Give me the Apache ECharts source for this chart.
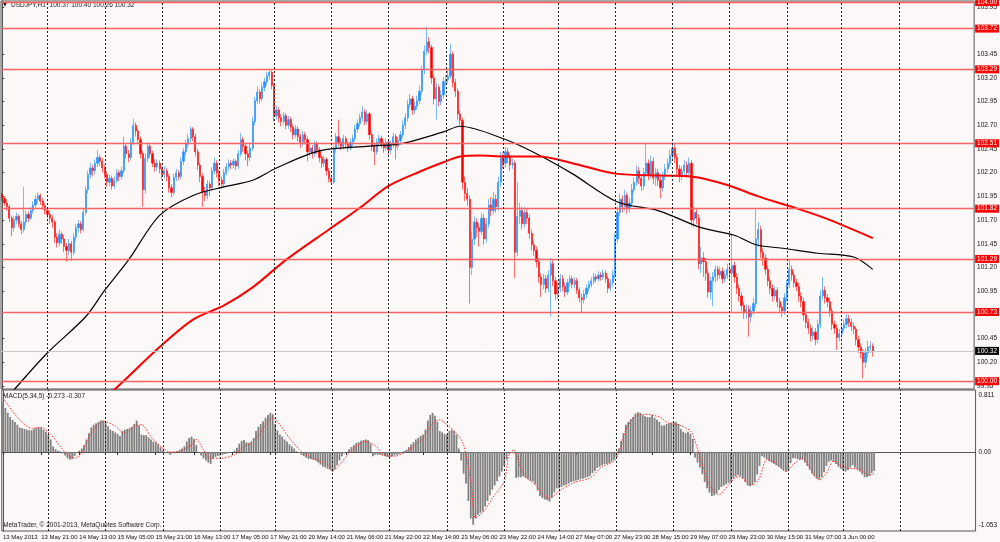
<!DOCTYPE html>
<html lang="en">
<head>
<meta charset="UTF-8">
<title>USDJPY,H1</title>
<style>
  html, body { margin: 0; padding: 0; background: #fcf8f7; }
  #main { width: 1000px; height: 542px; }
</style>
</head>
<body>
<div id="main"></div>
<script src="https://cdn.jsdelivr.net/npm/echarts@6/dist/echarts.min.js"></script>
<script>
// USDJPY H1, 13 May 05:00 .. 3 Jun 13:00 (one row per trading day)
var firstOpen = 101.97;
var closes = [
  101.93,101.88,101.84,101.72,101.62,101.70,101.74,101.66,101.60,101.68,101.76,101.72,101.80,101.86,101.92,101.96,101.90,101.85,101.80,
  101.76,101.72,101.68,101.52,101.46,101.55,101.50,101.42,101.38,101.45,101.36,101.52,101.62,101.66,101.60,101.78,102.02,102.18,102.25,102.22,102.30,102.36,102.32,102.25,
  102.18,102.10,102.14,102.06,102.12,102.20,102.16,102.22,102.48,102.40,102.36,102.52,102.70,102.64,102.55,102.40,102.02,102.35,102.48,102.40,102.30,102.26,102.30,102.24,
  102.18,102.22,102.16,102.04,101.99,102.15,102.20,102.16,102.32,102.42,102.50,102.56,102.66,102.58,102.42,102.28,102.16,102.00,101.96,102.08,102.04,102.22,102.30,102.20,
  102.12,102.08,102.20,102.26,102.30,102.28,102.32,102.27,102.40,102.55,102.48,102.40,102.36,102.46,102.74,102.96,103.05,102.98,103.10,103.16,103.22,103.26,103.12,
  102.80,102.86,102.78,102.74,102.80,102.70,102.76,102.68,102.60,102.66,102.58,102.52,102.60,102.55,102.42,102.46,102.40,102.50,102.44,102.36,102.30,102.34,102.22,102.14,
  102.10,102.45,102.58,102.52,102.48,102.56,102.50,102.46,102.52,102.56,102.66,102.72,102.78,102.84,102.74,102.82,102.60,102.48,102.42,102.52,102.56,102.50,102.46,102.52,
  102.44,102.50,102.58,102.48,102.54,102.60,102.70,102.78,102.92,102.98,102.86,102.90,102.96,103.06,103.28,103.48,103.58,103.52,103.20,102.98,103.10,102.95,103.02,103.16,
  103.18,103.22,103.45,103.15,103.06,102.82,102.75,102.10,101.98,101.92,101.20,101.50,101.68,101.62,101.58,101.72,101.50,101.66,101.86,101.80,101.92,101.84,102.10,102.36,
  102.30,102.42,102.36,102.28,102.30,101.36,101.74,101.80,101.66,101.78,101.72,101.56,101.44,101.38,101.26,101.10,101.02,101.08,100.98,101.12,101.24,101.06,100.92,
  100.98,101.08,101.00,100.94,101.04,101.08,101.02,101.06,100.96,100.88,100.86,100.92,100.98,101.02,101.06,101.10,101.08,101.12,101.10,101.14,101.08,100.98,101.04,101.12,
  101.50,101.78,101.92,101.84,101.96,101.82,101.88,102.02,102.10,102.22,102.14,102.06,102.20,102.30,102.18,102.32,102.14,102.20,102.12,102.04,102.16,102.24,102.30,102.38,
  102.46,102.36,102.24,102.16,102.22,102.28,102.20,102.30,101.70,101.78,101.72,101.24,101.30,101.26,101.14,100.94,101.06,101.10,101.18,101.12,101.16,101.08,101.12,101.18,
  101.14,101.22,101.10,100.98,100.90,100.80,100.72,100.76,100.68,100.74,100.82,101.50,101.60,101.36,101.30,101.18,101.06,100.98,100.90,100.96,100.84,100.78,100.74,100.88,
  101.02,101.18,101.12,101.04,101.00,100.90,100.84,100.70,100.62,100.56,100.48,100.52,100.44,100.60,100.90,100.96,100.88,100.84,100.74,100.60,100.56,100.46,100.50,
  100.56,100.60,100.66,100.62,100.58,100.55,100.44,100.36,100.30,100.20,100.30,100.36,100.37,100.32
];
var highs = [
  101.99,101.95,101.92,101.86,101.75,101.74,101.78,101.76,101.69,102.05,101.80,101.79,101.84,101.90,101.96,101.99,101.98,101.93,101.88,
  101.83,101.79,101.75,101.70,101.56,101.60,101.58,101.54,101.46,101.50,101.48,101.56,101.66,101.70,101.69,101.82,102.06,102.22,102.30,102.28,102.34,102.44,102.39,102.35,
  102.28,102.21,102.18,102.17,102.16,102.24,102.23,102.26,102.58,102.51,102.44,102.56,102.77,102.73,102.67,102.58,102.43,102.40,102.52,102.51,102.43,102.34,102.34,102.33,
  102.27,102.27,102.25,102.19,102.08,102.19,102.24,102.23,102.36,102.46,102.55,102.61,102.69,102.68,102.61,102.45,102.31,102.19,102.05,102.12,102.11,102.26,102.36,102.33,
  102.23,102.16,102.24,102.30,102.34,102.33,102.35,102.34,102.44,102.62,102.58,102.51,102.43,102.50,102.79,103.00,103.11,103.08,103.15,103.20,103.26,103.30,103.28,
  103.14,102.91,102.89,102.82,102.84,102.83,102.80,102.79,102.71,102.70,102.69,102.61,102.64,102.63,102.58,102.51,102.49,102.54,102.53,102.47,102.39,102.38,102.36,102.25,
  102.18,102.49,102.62,102.76,102.56,102.60,102.59,102.53,102.56,102.60,102.70,102.76,102.82,102.90,102.87,102.86,102.84,102.63,102.51,102.56,102.60,102.59,102.53,102.56,
  102.55,102.54,102.62,102.61,102.58,102.64,102.75,102.83,102.97,103.03,103.01,102.95,103.01,103.12,103.33,103.54,103.74,103.63,103.55,103.24,103.15,103.13,103.07,103.21,
  103.23,103.28,103.56,103.48,103.19,103.09,102.86,102.78,102.16,102.04,101.96,101.58,101.74,101.72,101.67,101.78,101.76,101.72,101.92,101.94,102.00,101.97,102.16,102.42,
  102.41,102.47,102.46,102.40,102.35,102.33,102.10,101.88,101.84,101.84,101.82,101.76,101.60,101.48,101.42,101.30,101.14,101.13,101.12,101.17,101.30,101.28,101.10,
  101.03,101.13,101.12,101.04,101.08,101.12,101.11,101.10,101.09,100.99,100.92,100.96,101.02,101.06,101.10,101.14,101.13,101.16,101.15,101.18,101.17,101.11,101.08,101.17,
  101.56,101.84,101.98,101.96,102.02,101.99,101.93,102.08,102.15,102.28,102.26,102.18,102.25,102.51,102.34,102.38,102.36,102.25,102.24,102.16,102.21,102.29,102.35,102.44,
  102.52,102.50,102.40,102.28,102.27,102.33,102.32,102.36,102.33,101.84,101.82,101.76,101.42,101.36,101.30,101.18,101.10,101.15,101.22,101.22,101.21,101.20,101.17,101.24,
  101.22,101.56,101.26,101.14,101.02,100.94,100.84,100.81,100.80,100.79,100.88,101.81,101.68,101.64,101.40,101.34,101.22,101.10,101.02,101.00,100.99,100.88,100.82,100.93,
  101.07,101.29,101.22,101.16,101.08,101.04,100.94,100.88,100.74,100.66,100.60,100.57,100.56,100.65,100.96,101.10,101.00,100.92,100.88,100.78,100.64,100.60,100.55,
  100.60,100.65,100.71,100.70,100.66,100.62,100.58,100.48,100.40,100.34,100.35,100.43,100.42,100.40
];
var lows = [
  101.90,101.85,101.80,101.68,101.53,101.58,101.66,101.62,101.55,101.57,101.64,101.68,101.70,101.77,101.83,101.88,101.86,101.81,101.76,
  101.72,101.66,101.62,101.46,101.41,101.43,101.45,101.36,101.26,101.33,101.27,101.33,101.48,101.57,101.56,101.58,101.75,101.98,102.14,102.16,102.18,102.26,102.27,102.20,
  102.14,102.05,102.06,102.02,102.03,102.09,102.11,102.13,102.19,102.35,102.31,102.33,102.49,102.58,102.50,102.35,101.84,101.98,102.31,102.36,102.26,102.21,102.22,102.19,
  102.13,102.14,102.11,101.99,101.94,101.96,102.11,102.12,102.13,102.28,102.38,102.46,102.52,102.53,102.37,102.23,102.10,101.84,101.90,101.92,101.95,102.01,102.18,102.15,
  102.06,102.03,102.05,102.17,102.22,102.24,102.25,102.23,102.24,102.37,102.42,102.33,102.27,102.32,102.43,102.70,102.92,102.93,102.95,103.06,103.12,103.18,103.08,
  102.74,102.76,102.73,102.69,102.71,102.66,102.66,102.63,102.55,102.57,102.53,102.46,102.48,102.50,102.32,102.38,102.35,102.37,102.40,102.31,102.25,102.26,102.17,102.10,
  102.07,102.08,102.41,102.48,102.44,102.45,102.46,102.42,102.43,102.48,102.53,102.62,102.68,102.74,102.70,102.71,102.55,102.43,102.28,102.39,102.48,102.46,102.41,102.43,
  102.39,102.40,102.46,102.34,102.44,102.50,102.57,102.66,102.74,102.88,102.81,102.82,102.86,102.92,103.02,103.24,103.44,103.46,103.14,102.92,102.76,102.90,102.91,102.98,
  103.12,103.14,103.19,103.10,103.00,102.76,102.70,102.02,101.90,101.85,100.82,101.12,101.44,101.52,101.42,101.54,101.44,101.46,101.62,101.74,101.76,101.78,101.80,102.05,
  102.24,102.26,102.30,102.22,102.24,101.09,101.32,101.66,101.60,101.62,101.66,101.50,101.38,101.32,101.20,101.04,100.89,100.97,100.93,100.94,100.68,101.00,100.86,
  100.87,100.94,100.95,100.89,100.91,101.00,100.98,100.98,100.92,100.83,100.73,100.82,100.88,100.94,100.99,101.02,101.04,101.05,101.06,101.07,101.04,100.93,100.95,101.00,
  101.08,101.46,101.74,101.78,101.80,101.77,101.78,101.84,101.98,102.06,102.08,102.01,102.02,102.16,102.12,102.14,102.08,102.06,102.06,101.93,102.00,102.12,102.20,102.26,
  102.34,102.30,102.18,102.10,102.12,102.18,102.15,102.17,101.64,101.62,101.66,101.18,101.14,101.10,101.06,100.88,100.86,100.79,101.04,101.06,101.08,101.03,101.04,101.08,
  101.08,100.72,101.04,100.92,100.84,100.74,100.66,100.66,100.47,100.62,100.70,100.78,101.42,101.30,101.22,101.12,101.00,100.92,100.84,100.86,100.78,100.72,100.68,100.70,
  100.84,100.98,101.06,100.99,100.95,100.84,100.78,100.64,100.56,100.50,100.42,100.43,100.38,100.40,100.56,100.86,100.82,100.78,100.68,100.54,100.50,100.33,100.42,
  100.46,100.52,100.56,100.57,100.53,100.50,100.38,100.30,100.24,100.03,100.14,100.25,100.30,100.26
];

// moving averages, [bar, price]
var maBlack = [[0,99.76],[5,99.91],[19,100.30],[35,100.68],[43,100.96],[53,101.28],[66,101.75],[80,101.96],[93,102.05],[105,102.12],[115,102.25],[133,102.43],[154,102.48],[168,102.51],[185,102.63],[192,102.69],[211,102.55],[224,102.40],[239,102.19],[258,101.89],[275,101.80],[293,101.62],[307,101.54],[316,101.44],[328,101.40],[342,101.35],[357,101.31],[365,101.18]];
var maRed = [[44,99.86],[47,99.91],[66,100.36],[80,100.65],[93,100.80],[105,100.99],[119,101.28],[137,101.60],[150,101.83],[162,102.06],[175,102.21],[185,102.31],[192,102.37],[200,102.38],[211,102.37],[225,102.37],[239,102.30],[257,102.19],[277,102.17],[289,102.16],[304,102.07],[317,101.95],[331,101.84],[345,101.72],[365,101.51]];

// MACD(5,34,5) histogram, one value per bar
var macd = [
  0.72,0.63,0.56,0.50,0.46,0.43,0.39,0.35,0.34,0.33,0.32,0.31,0.31,0.33,0.35,0.35,0.35,0.32,0.29,
  0.25,0.18,0.08,0.04,0.02,0.01,-0.02,-0.05,-0.09,-0.11,-0.10,-0.06,-0.01,0.02,0.05,0.10,0.18,0.27,0.35,0.39,0.41,0.43,0.45,0.45,
  0.42,0.37,0.32,0.30,0.28,0.26,0.23,0.30,0.32,0.33,0.34,0.36,0.40,0.45,0.38,0.25,0.24,0.24,0.21,0.18,0.15,0.14,0.11,0.07,
  0.02,0.00,-0.02,-0.04,-0.02,0.00,0.01,0.03,0.05,0.08,0.15,0.20,0.22,0.19,0.10,0.00,-0.05,-0.09,-0.12,-0.15,-0.17,-0.10,-0.07,-0.06,
  -0.05,-0.04,-0.03,-0.02,-0.01,0.00,0.02,0.06,0.12,0.16,0.17,0.14,0.13,0.15,0.20,0.30,0.36,0.40,0.44,0.49,0.53,0.56,0.54,
  0.40,0.31,0.25,0.22,0.18,0.15,0.11,0.08,0.05,0.01,-0.01,-0.04,-0.06,-0.08,-0.10,-0.10,-0.11,-0.12,-0.15,-0.18,-0.21,-0.22,-0.24,-0.25,
  -0.28,-0.25,-0.19,-0.12,-0.06,-0.02,0.00,0.04,0.07,0.10,0.13,0.14,0.16,0.17,0.18,0.17,0.12,-0.06,-0.04,-0.04,-0.04,-0.05,-0.06,-0.07,
  -0.08,-0.06,-0.05,-0.04,-0.03,-0.02,0.01,0.03,0.07,0.11,0.14,0.18,0.20,0.23,0.25,0.32,0.45,0.53,0.56,0.52,0.43,0.30,0.28,0.26,
  0.25,0.30,0.32,0.30,0.25,0.05,-0.12,-0.31,-0.45,-0.70,-0.95,-1.04,-0.95,-0.90,-0.87,-0.85,-0.78,-0.70,-0.62,-0.54,-0.48,-0.42,-0.35,-0.28,
  -0.20,-0.11,-0.03,-0.01,-0.02,-0.37,-0.36,-0.36,-0.35,-0.37,-0.39,-0.41,-0.42,-0.46,-0.55,-0.63,-0.66,-0.68,-0.69,-0.71,-0.65,-0.58,-0.52,
  -0.52,-0.50,-0.48,-0.47,-0.45,-0.43,-0.42,-0.41,-0.40,-0.39,-0.38,-0.37,-0.36,-0.34,-0.30,-0.27,-0.23,-0.21,-0.19,-0.17,-0.17,-0.16,-0.14,-0.11,
  -0.08,0.05,0.16,0.27,0.39,0.43,0.47,0.50,0.55,0.57,0.56,0.53,0.51,0.50,0.50,0.53,0.49,0.46,0.43,0.38,0.38,0.40,0.41,0.42,
  0.43,0.43,0.40,0.33,0.29,0.27,0.29,0.26,0.19,-0.08,-0.15,-0.22,-0.32,-0.43,-0.52,-0.58,-0.63,-0.62,-0.59,-0.54,-0.50,-0.48,-0.46,-0.44,
  -0.43,-0.38,-0.35,-0.33,-0.35,-0.38,-0.43,-0.48,-0.49,-0.47,-0.43,-0.32,-0.20,-0.06,-0.08,-0.10,-0.13,-0.15,-0.17,-0.19,-0.21,-0.23,-0.26,-0.28,
  -0.26,-0.16,-0.09,-0.09,-0.10,-0.11,-0.11,-0.15,-0.20,-0.25,-0.31,-0.35,-0.38,-0.39,-0.36,-0.29,-0.20,-0.14,-0.12,-0.14,-0.17,-0.21,-0.24,
  -0.26,-0.28,-0.26,-0.22,-0.19,-0.22,-0.25,-0.28,-0.32,-0.36,-0.36,-0.34,-0.30,-0.27
];
// signal line, [bar, value]
var signal = [[0,0.77],[3,0.63],[7,0.46],[12,0.34],[16,0.35],[20,0.25],[24,0.08],[27,-0.04],[30,-0.09],[33,-0.01],[35,0.15],[38,0.32],[42,0.44],[47,0.37],[51,0.27],[55,0.37],[58,0.39],[62,0.22],[66,0.08],[70,0.00],[74,0.01],[79,0.10],[81,0.18],[84,0.03],[87,-0.09],[91,-0.09],[97,-0.04],[101,0.08],[105,0.15],[109,0.34],[113,0.49],[116,0.39],[120,0.20],[125,0.01],[130,-0.09],[136,-0.18],[138,-0.27],[141,-0.18],[144,-0.06],[148,0.08],[152,0.15],[157,0.06],[159,-0.04],[164,-0.06],[168,-0.01],[172,0.08],[176,0.20],[180,0.41],[183,0.46],[186,0.39],[190,0.27],[193,0.10],[196,-0.42],[198,-0.94],[201,-0.87],[205,-0.66],[210,-0.42],[212,-0.04],[214,0.03],[217,-0.23],[219,-0.35],[223,-0.47],[229,-0.66],[233,-0.56],[239,-0.44],[246,-0.37],[251,-0.21],[256,-0.13],[258,-0.01],[261,0.32],[265,0.51],[269,0.54],[275,0.50],[279,0.41],[283,0.39],[288,0.30],[290,0.15],[293,-0.18],[296,-0.47],[300,-0.61],[304,-0.47],[308,-0.35],[314,-0.47],[317,-0.37],[320,-0.11],[324,-0.16],[328,-0.28],[331,-0.18],[335,-0.09],[339,-0.28],[342,-0.40],[345,-0.30],[348,-0.13],[352,-0.21],[354,-0.23],[359,-0.25],[363,-0.33],[365,-0.31]];

// horizontal lines and labels
var levels = [104.00, 103.72, 103.29, 102.51, 101.82, 101.29, 100.73, 100.00];
var lastPrice = 100.32;
var priceTicks = [99.95, 100.20, 100.45, 100.95, 101.20, 101.45, 101.70, 101.95, 102.20, 102.45, 102.70, 102.95, 103.20, 103.45, 103.95];
var macdTicks = [0.811, 0, -1.053];
var tickLabels = ['13 May 2013','13 May 21:00','14 May 13:00','15 May 05:00','15 May 21:00','16 May 13:00','17 May 05:00','17 May 21:00','20 May 14:00','21 May 06:00','21 May 22:00','22 May 14:00','23 May 06:00','23 May 22:00','24 May 14:00','27 May 07:00','27 May 23:00','28 May 15:00','29 May 07:00','29 May 23:00','30 May 15:00','31 May 07:00','3 Jun 00:00'];
var dayStarts = [19, 43, 67, 91, 114, 138, 162, 186, 210, 233, 257, 281, 305, 329, 352, 376];

var SLOTS = 408;      // bars + empty right shift
var LABEL_STEP = 16;
var slots = [];
for (var i = 0; i < SLOTS; i++) slots.push(i);

var candles = closes.map(function (c, i) {
    return [i ? closes[i - 1] : firstOpen, c, lows[i], highs[i]];
});

var FONT = 'Liberation Sans';
var FS = 6.5;

var vlines = {
    silent: true, symbol: 'none', label: {show: false},
    lineStyle: {color: '#222', type: [2, 2], width: 1},
    data: dayStarts.map(function (d) { return {xAxis: d}; })
};

var levelLines = levels.map(function (v) {
    return {yAxis: v, label: {formatter: v.toFixed(2)}};
});
levelLines.push({
    yAxis: lastPrice,
    lineStyle: {color: '#c8c8c8', width: 1, type: 'solid'},
    label: {formatter: lastPrice.toFixed(2), backgroundColor: '#000'}
});

function labelInterval(i) { return i % LABEL_STEP === 0 && i / LABEL_STEP < tickLabels.length; }

var myChart = echarts.init(document.getElementById('main'));
var option = {
    animation: false,
    backgroundColor: '#fcf8f7',
    textStyle: {fontFamily: FONT},
    grid: [
        {left: 1, top: 1, width: 976, height: 388, show: true, borderColor: '#555', borderWidth: 1, backgroundColor: 'transparent'},
        {left: 1, top: 390, width: 976, height: 141, show: true, borderColor: '#555', borderWidth: 1, backgroundColor: 'transparent'}
    ],
    xAxis: [
        {type: 'category', gridIndex: 0, data: slots, boundaryGap: true,
         axisLine: {show: false}, axisTick: {show: false}, axisLabel: {show: false}, splitLine: {show: false}},
        {type: 'value', gridIndex: 0, min: -0.5, max: SLOTS - 0.5, show: false},
        {type: 'category', gridIndex: 1, data: slots, boundaryGap: true,
         axisLine: {show: true, lineStyle: {color: '#555'}},
         axisTick: {show: true, interval: labelInterval, alignWithLabel: true, length: 3, lineStyle: {color: '#333'}},
         axisLabel: {interval: labelInterval, align: 'left', margin: 3, fontSize: 6, color: '#111', fontFamily: FONT,
                     hideOverlap: false, showMaxLabel: true,
                     formatter: function (v, idx) { return tickLabels[idx / LABEL_STEP]; }},
         splitLine: {show: false}},
        {type: 'value', gridIndex: 1, min: -0.5, max: SLOTS - 0.5, show: false}
    ],
    yAxis: [
        {type: 'value', gridIndex: 0, position: 'right', min: 99.918, max: 104.011, scale: true,
         axisLine: {show: true, lineStyle: {color: '#555'}},
         axisTick: {show: true, length: 2, customValues: priceTicks, lineStyle: {color: '#333'}},
         axisLabel: {customValues: priceTicks, margin: 3, fontSize: FS, color: '#111', fontFamily: FONT,
                     formatter: function (v) { return v.toFixed(2); }},
         splitLine: {show: false}},
        {type: 'value', gridIndex: 1, position: 'right', min: -1.13, max: 0.887,
         axisLine: {show: true, lineStyle: {color: '#555'}},
         axisTick: {show: true, length: 2, customValues: macdTicks, lineStyle: {color: '#333'}},
         axisLabel: {customValues: macdTicks, margin: 3, fontSize: FS, color: '#111', fontFamily: FONT,
                     formatter: function (v) { return v === 0 ? '0.00' : String(v); }},
         splitLine: {show: false}}
    ],
    graphic: [
        {type: 'text', left: 3, top: 2, style: {text: '\u25BC', fontSize: 5, fill: '#000', fontFamily: 'DejaVu Sans'}},
        {type: 'text', left: 11, top: 2, style: {text: 'USDJPY,H1  100.37 100.40 100.26 100.32', fontSize: FS, fill: '#222', fontFamily: FONT}},
        {type: 'text', left: 3, top: 393, style: {text: 'MACD(5,34,5) -0.273 -0.307', fontSize: FS, fill: '#222', fontFamily: FONT}},
        {type: 'text', left: 3, top: 522, style: {text: 'MetaTrader, \u00A9 2001-2013, MetaQuotes Software Corp.', fontSize: FS, fill: '#222', fontFamily: FONT}}
    ],
    series: [
        {
            name: 'USDJPY', type: 'candlestick', xAxisIndex: 0, yAxisIndex: 0,
            data: candles, barWidth: 1.7,
            itemStyle: {
                color: '#1e90ff', color0: '#ff0000',
                borderColor: 'rgba(30,144,255,0.6)', borderColor0: 'rgba(255,0,0,0.55)', borderWidth: 1
            },
            markLine: {
                silent: true, symbol: 'none',
                lineStyle: {color: '#ff6262', width: 1.3, type: 'solid'},
                label: {show: true, position: 'end', distance: 1, color: '#fff', backgroundColor: '#ff0000',
                        fontSize: FS, fontFamily: FONT, padding: [1, 2, 0, 2]},
                data: levelLines
            }
        },
        {
            name: 'MA black', type: 'line', xAxisIndex: 1, yAxisIndex: 0,
            data: maBlack, smooth: 0.3, symbol: 'none',
            lineStyle: {color: '#000', width: 1.2},
            markLine: vlines
        },
        {
            name: 'MA red', type: 'line', xAxisIndex: 1, yAxisIndex: 0,
            data: maRed, smooth: 0.3, symbol: 'none',
            lineStyle: {color: '#ff0000', width: 2}
        },
        {
            name: 'MACD', type: 'bar', xAxisIndex: 2, yAxisIndex: 1,
            data: macd, barWidth: 1.8,
            itemStyle: {color: '#808080'}
        },
        {
            name: 'Signal', type: 'line', xAxisIndex: 3, yAxisIndex: 1,
            data: signal, smooth: 0.3, symbol: 'none',
            lineStyle: {color: '#ff3030', width: 1, type: [1.5, 1.5]},
            markLine: vlines
        }
    ]
};
myChart.setOption(option);
</script>
</body>
</html>
